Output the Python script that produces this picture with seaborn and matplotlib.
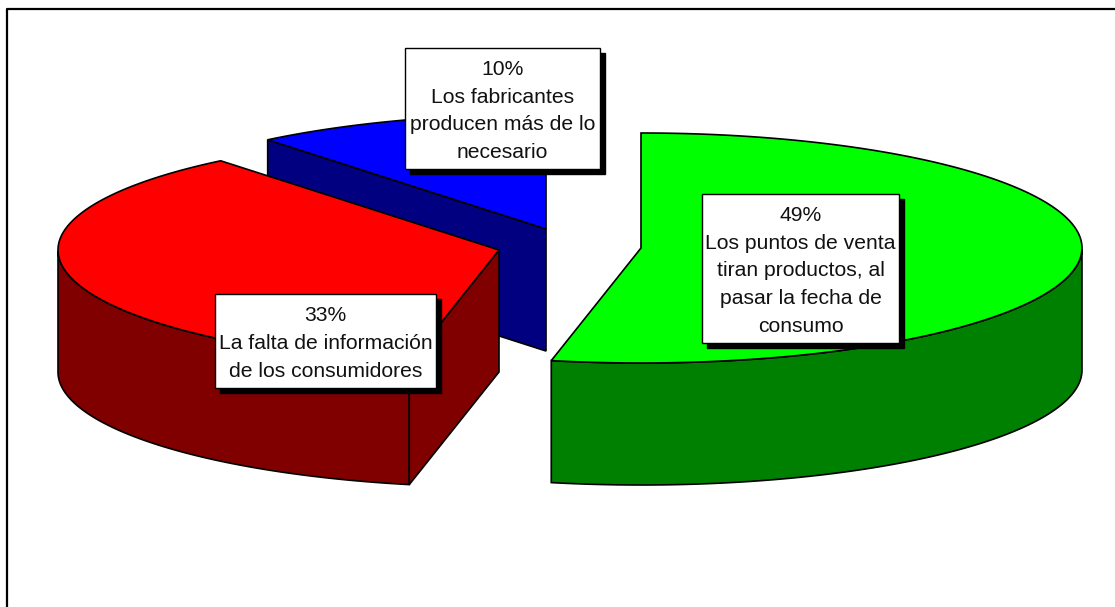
import numpy as np
import seaborn as sns
import matplotlib.pyplot as plt
from matplotlib.patches import Rectangle

sns.set_style('white')
plt.rcParams['font.family'] = ['Liberation Sans', 'DejaVu Sans']

# datos
categorias = ['Los puntos de venta\ntiran productos, al\npasar la fecha de\nconsumo',
              'La falta de información\nde los consumidores',
              'Los fabricantes\nproducen más de lo\nnecesario']
valores = [49, 33, 10]
colores_top = ['#00FF00', '#FF0000', '#0000FF']
colores_lado = ['#008000', '#800000', '#000080']

# layout en pixeles de la imagen
W, H = 1115, 607
centros = [(641, 248), (499, 250), (546, 229)]
cajas = [(702, 194, 899, 343), (215, 294, 436, 388), (405, 48, 600, 169)]
RX, RY, DEPTH = 441, 115, 122

fig = plt.figure(figsize=(W / 100, H / 100), dpi=100)
ax = fig.add_axes([0, 0, 1, 1])
ax.set_xlim(0, W)
ax.set_ylim(H, 0)
ax.axis('off')

# el marco solo tiene lado izquierdo y superior
ax.plot([7, 7, W], [H, 9, 9], color='black', lw=1.6, zorder=0)

# angulos medidos desde las 12 en sentido horario
total = sum(valores)
fin = np.cumsum(valores) / total * 2 * np.pi
inicio = np.concatenate([[0], fin[:-1]])


def borde(c, t):
    return c[0] + RX * np.sin(t), c[1] - RY * np.cos(t)


def dibuja(i, z):
    c = centros[i]
    t = np.linspace(inicio[i], fin[i], 200)
    x, y = borde(c, t)

    # pared exterior, solo la parte que mira al frente
    frente = (t >= np.pi / 2) & (t <= 3 * np.pi / 2)
    if frente.any():
        fx, fy = x[frente], y[frente]
        ax.fill(np.r_[fx, fx[::-1]], np.r_[fy, fy[::-1] + DEPTH],
                fc=colores_lado[i], ec='black', lw=1.2, zorder=z)

    # pared de corte visible (el verde no la muestra)
    if i != 0:
        xe, ye = borde(c, inicio[i])
        ax.fill([c[0], xe, xe, c[0]], [c[1], ye, ye + DEPTH, c[1] + DEPTH],
                fc=colores_lado[i], ec='black', lw=1.2, zorder=z)

    # cara superior
    ax.fill(np.r_[c[0], x], np.r_[c[1], y], fc=colores_top[i], ec='black', lw=1.2, zorder=z + 0.5)


dibuja(2, 1)
dibuja(1, 2)
dibuja(0, 3)

# etiquetas
for val, cat, (x0, y0, x1, y1) in zip(valores, categorias, cajas):
    ax.add_patch(Rectangle((x0 + 5, y0 + 5), x1 - x0, y1 - y0, fc='black', ec='black', lw=1, zorder=5))
    ax.add_patch(Rectangle((x0, y0), x1 - x0, y1 - y0, fc='white', ec='black', lw=1, zorder=6))
    ax.text((x0 + x1) / 2, (y0 + y1) / 2 + 2.5, f'{val}%\n{cat}', ha='center', va='center',
            fontsize=15.2, linespacing=1.58, color='#111111', zorder=7)

fig.savefig('out.png', dpi=100)
